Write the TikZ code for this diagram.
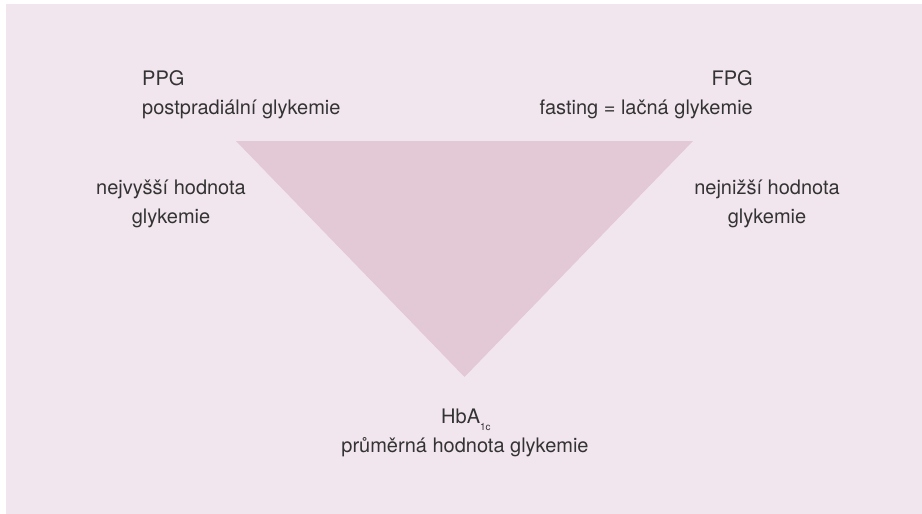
\documentclass[tikz,border=0pt]{standalone}
\usepackage{fontspec}
\setmainfont{TeX Gyre Heros}
\definecolor{bgpink}{HTML}{F2E6EE}
\definecolor{tripink}{HTML}{E3C8D6}
\definecolor{txt}{HTML}{333333}
\begin{document}
\begin{tikzpicture}[x=1pt,y=-1pt,
  lbl/.style={inner sep=0pt,text=txt,font=\fontsize{20}{22}\selectfont}]
\useasboundingbox (0,0) rectangle (922,514);
\fill[white] (0,0) rectangle (922,514);
\fill[bgpink] (6,4) rectangle (922,514);
\fill[tripink] (236,141) -- (693,141) -- (464.5,377) -- cycle;
% top left
\node[lbl,anchor=base west] (ppg) at (142,85) {PPG};
\node[lbl,anchor=base west] (ppgtxt) at (142,114) {postpradiální glykemie};
% top right
\node[lbl,anchor=base east] (fpg) at (753,85) {FPG};
\node[lbl,anchor=base east] (fpgtxt) at (753,114) {fasting = lačná glykemie};
% left side
\node[lbl,anchor=base] (hi1) at (171,194) {nejvyšší hodnota};
\node[lbl,anchor=base] (hi2) at (171,223) {glykemie};
% right side
\node[lbl,anchor=base] (lo1) at (767,194) {nejnižší hodnota};
\node[lbl,anchor=base] (lo2) at (767,223) {glykemie};
% bottom
\node[lbl,anchor=base west] (hba) at (441,423) {HbA\raisebox{-7pt}{\fontsize{10}{10}\selectfont 1c}};
\node[lbl,anchor=base] (hbatxt) at (465,452) {průměrná hodnota glykemie};
\end{tikzpicture}
\end{document}
